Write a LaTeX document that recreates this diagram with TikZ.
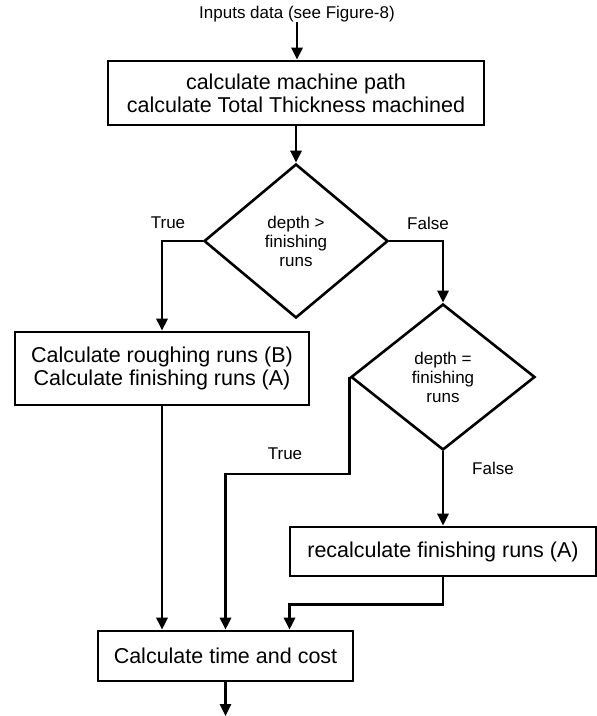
\documentclass[tikz,border=0pt]{standalone}
\usepackage{fontspec}
\setmainfont{Liberation Sans}
\usetikzlibrary{shapes.geometric,arrows.meta,calc}
\newcommand{\flowBig}{\fontsize{21.5}{23}\selectfont}
\newcommand{\flowSmall}{\fontsize{17}{19}\selectfont}

\begin{document}
\begin{tikzpicture}[x=1pt,y=-1pt,
  flowline/.style={line width=2.6pt},
  flowarrow/.style={flowline,-{Triangle[length=12pt,width=11pt]}},
  flowbox/.style={draw,line width=2.6pt,inner sep=0pt,align=center,font=\flowBig},
  flowtest/.style={draw,diamond,line width=2.6pt,inner sep=0pt,align=center,font=\flowSmall},
  flowlabel/.style={inner sep=0pt,font=\flowSmall}]
\useasboundingbox (0,0) rectangle (597,716);
\node[flowlabel] (inputs) at (297,14) {Inputs data (see Figure-8)};
\node[flowbox,minimum width=376pt,minimum height=64pt] (path) at (296,93) {calculate machine path\\calculate Total Thickness machined};
\node[flowtest,minimum width=184pt,minimum height=154pt] (deeper) at (296,241) {depth \textgreater\\finishing\\runs};
\node[flowbox,minimum width=294pt,minimum height=73pt] (rough) at (162,368.5) {Calculate roughing runs (B)\\Calculate finishing runs (A)};
\node[flowtest,minimum width=184pt,minimum height=146pt] (equal) at (443,377) {depth =\\finishing\\runs};
\node[flowbox,minimum width=306pt,minimum height=49pt] (recalc) at (443,551.5) {recalculate finishing runs (A)};
\node[flowbox,minimum width=255pt,minimum height=50pt] (cost) at (225.5,656) {Calculate time and cost};
\node[flowlabel] (deeperTrue) at (168,223) {True};
\node[flowlabel] (deeperFalse) at (428,223) {False};
\node[flowlabel] (equalTrue) at (285,454) {True};
\node[flowlabel] (equalFalse) at (493,468) {False};
\coordinate (costEnd) at (225.5,716);
\draw[flowarrow] (inputs.south) -- (inputs.south |- path.north);
\draw[flowarrow] (path.south) -- (deeper.north);
\draw[flowarrow] (deeper.west) -| (rough.north);
\draw[flowarrow] (deeper.east) -| (equal.north);
\draw[flowarrow] (equal.south) -- (recalc.north);
\draw[flowarrow] (equal.west) -- ++(0,97) -| (cost.north);
\draw[flowarrow] (rough.south) -- (rough.south |- cost.north);
\draw[flowarrow] (recalc.south) -- ++(0,27) -| ($(cost.north)+(64,0)$);
\draw[flowarrow] (cost.south) -- (costEnd);
\end{tikzpicture}
\end{document}
